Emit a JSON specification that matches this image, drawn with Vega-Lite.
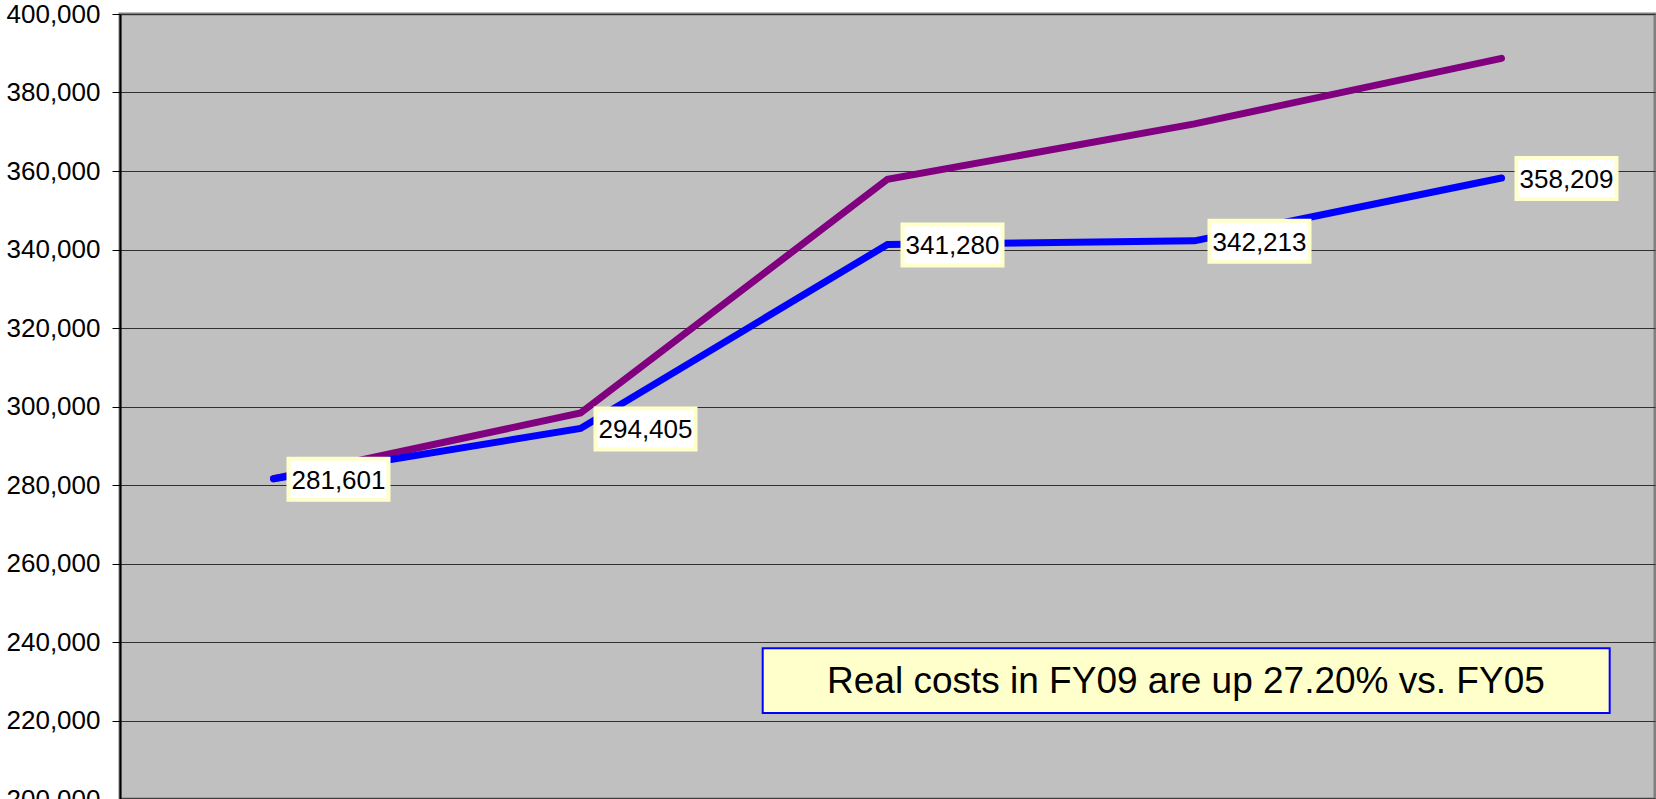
{
  "$schema": "https://vega.github.io/schema/vega-lite/v6.json",
  "width": 1535,
  "height": 785,
  "autosize": {"type": "none"},
  "padding": {"left": 120, "top": 14, "right": 1, "bottom": 0},
  "background": "#FFFFFF",
  "config": {
    "font": "Liberation Sans",
    "view": {"fill": "#C0C0C0", "stroke": "#808080", "strokeWidth": 3}
  },
  "datasets": {
    "costs": [
      {"year": 2005, "series": "Other", "value": 281601},
      {"year": 2006, "series": "Other", "value": 298340},
      {"year": 2007, "series": "Other", "value": 357880},
      {"year": 2008, "series": "Other", "value": 372000},
      {"year": 2009, "series": "Other", "value": 388710},
      {"year": 2005, "series": "Real cost", "value": 281601},
      {"year": 2006, "series": "Real cost", "value": 294405},
      {"year": 2007, "series": "Real cost", "value": 341280},
      {"year": 2008, "series": "Real cost", "value": 342213},
      {"year": 2009, "series": "Real cost", "value": 358209}
    ],
    "note": [
      {"x1": 2006.5935, "x2": 2009.3524, "y1": 238395, "y2": 221911, "tx": 2007.972, "ty": 226930, "label": "Real costs in FY09 are up 27.20% vs. FY05"}
    ]
  },
  "layer": [
    {
      "data": {"name": "costs"},
      "transform": [{"filter": "datum.series === 'Other'"}],
      "mark": {"type": "line", "strokeWidth": 7, "strokeCap": "round", "strokeJoin": "miter", "color": "#800080"},
      "encoding": {
        "x": {
          "field": "year", "type": "quantitative",
          "scale": {"domain": [2004.5, 2009.5], "nice": false, "zero": false},
          "axis": {"labels": false, "ticks": false, "grid": false, "title": null, "domainColor": "#000000", "domainWidth": 2}
        },
        "y": {
          "field": "value", "type": "quantitative",
          "scale": {"domain": [200000, 400000], "nice": false, "zero": false},
          "axis": {
            "values": [200000, 220000, 240000, 260000, 280000, 300000, 320000, 340000, 360000, 380000, 400000],
            "format": ",d",
            "title": null,
            "labelFontSize": 26,
            "labelColor": "#000000",
            "labelPadding": 12,
            "tickSize": 8,
            "tickColor": "#000000",
            "tickWidth": 1,
            "domainColor": "#000000",
            "domainWidth": 2,
            "gridColor": "#303030",
            "gridWidth": 1,
            "gridOpacity": 1
          }
        },
        "order": {"field": "year"}
      }
    },
    {
      "data": {"name": "costs"},
      "transform": [{"filter": "datum.series === 'Real cost'"}],
      "mark": {"type": "line", "strokeWidth": 7, "strokeCap": "round", "strokeJoin": "miter", "color": "#0000FF"},
      "encoding": {
        "x": {"field": "year", "type": "quantitative"},
        "y": {"field": "value", "type": "quantitative"},
        "order": {"field": "year"}
      }
    },
    {
      "data": {"name": "costs"},
      "transform": [{"filter": "datum.series === 'Real cost'"}],
      "mark": {"type": "rect", "fill": "#FFFFFF", "stroke": "#FFFFCC", "strokeWidth": 4, "xOffset": 15, "x2Offset": 115, "yOffset": -20, "y2Offset": 21},
      "encoding": {
        "x": {"field": "year", "type": "quantitative"},
        "x2": {"field": "year"},
        "y": {"field": "value", "type": "quantitative"},
        "y2": {"field": "value"}
      }
    },
    {
      "data": {"name": "costs"},
      "transform": [{"filter": "datum.series === 'Real cost'"}],
      "mark": {"type": "text", "align": "left", "baseline": "alphabetic", "dx": 18, "dy": 10, "fontSize": 26, "color": "#000000"},
      "encoding": {
        "x": {"field": "year", "type": "quantitative"},
        "y": {"field": "value", "type": "quantitative"},
        "text": {"field": "value", "type": "quantitative", "format": ",d"}
      }
    },
    {
      "data": {"name": "note"},
      "mark": {"type": "rect", "fill": "#FFFFCC", "stroke": "#0000FF", "strokeWidth": 2},
      "encoding": {
        "x": {"field": "x1", "type": "quantitative"},
        "x2": {"field": "x2"},
        "y": {"field": "y1", "type": "quantitative"},
        "y2": {"field": "y2"}
      }
    },
    {
      "data": {"name": "note"},
      "mark": {"type": "text", "align": "center", "baseline": "alphabetic", "fontSize": 37, "color": "#000000"},
      "encoding": {
        "x": {"field": "tx", "type": "quantitative"},
        "y": {"field": "ty", "type": "quantitative"},
        "text": {"field": "label", "type": "nominal"}
      }
    }
  ]
}
